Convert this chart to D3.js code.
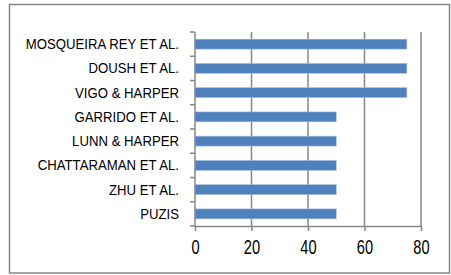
<!DOCTYPE html>
<html>
<head>
<meta charset="utf-8">
<script src="https://cdn.jsdelivr.net/npm/d3@7"></script>
<style>
  body { margin: 0; background: #fff; }
  svg { display: block; }
  text { font-family: "Liberation Sans Narrow", "Arial Narrow", "Liberation Sans", sans-serif; fill: #000; }
</style>
</head>
<body>
<script>
// studies, top to bottom
const studies = ["MOSQUEIRA REY ET AL.", "DOUSH ET AL.", "VIGO & HARPER", "GARRIDO ET AL.",
                 "LUNN & HARPER", "CHATTARAMAN ET AL.", "ZHU ET AL.", "PUZIS"];
const scores = [75, 75, 75, 50, 50, 50, 50, 50];
const xTicks = [0, 20, 40, 60, 80];

const W = 451, H = 275;
const margin = {top: 32, right: 30, bottom: 49, left: 195};
const width = 421 - margin.left,
      height = 226 - margin.top;
const grey = "#878787";

// no narrow font installed: squeeze the regular one
function narrow(sel, k) {
    sel.each(function () {
        const w = this.getComputedTextLength();
        d3.select(this)
            .attr("textLength", w * k)
            .attr("lengthAdjust", "spacingAndGlyphs");
    });
}

const svg = d3.select("body").append("svg")
    .attr("width", W)
    .attr("height", H);

// outer frame
svg.append("rect")
    .attr("x", 9.5).attr("y", 4.5)
    .attr("width", 440).attr("height", 268.5)
    .attr("fill", "none")
    .attr("stroke", grey)
    .attr("stroke-width", 1.5);

const g = svg.append("g")
    .attr("transform", "translate(" + margin.left + "," + margin.top + ")");

const x = d3.scaleLinear().domain([0, 80]).range([0, width]);
const y = d3.scaleBand().domain(studies).range([0, height])
    .paddingInner(0.59).paddingOuter(0.295);

// vertical gridlines
g.selectAll(".grid")
    .data(xTicks.slice(1))
    .enter().append("line")
    .attr("class", "grid")
    .attr("x1", d => x(d)).attr("x2", d => x(d))
    .attr("y1", 0).attr("y2", height)
    .attr("stroke", grey)
    .attr("stroke-width", 1.5);

// bars
g.selectAll(".bar")
    .data(studies)
    .enter().append("rect")
    .attr("class", "bar")
    .attr("x", x(0))
    .attr("y", d => y(d))
    .attr("width", (d, i) => x(scores[i]) - x(0))
    .attr("height", y.bandwidth())
    .attr("fill", "#4F81BD")
    .attr("stroke", "#A7C0DE")
    .attr("stroke-width", 0.6);

// y axis: labels centred on bars, ticks on band edges
const yAxis = g.append("g")
    .call(d3.axisLeft(y).tickSize(0).tickPadding(16));
yAxis.attr("font-family", null);
yAxis.select(".domain").remove();
yAxis.selectAll("text").attr("font-size", "15.5px").call(narrow, 0.85);

const edges = studies.map(d => y(d) - y.step() * y.paddingOuter()).concat([height]);
g.selectAll(".ytick")
    .data(edges)
    .enter().append("line")
    .attr("class", "ytick")
    .attr("x1", -5).attr("x2", 0)
    .attr("y1", d => d).attr("y2", d => d)
    .attr("stroke", grey)
    .attr("stroke-width", 1.5);
g.append("line")
    .attr("x1", 0).attr("x2", 0)
    .attr("y1", 0).attr("y2", height)
    .attr("stroke", grey)
    .attr("stroke-width", 1.5);

// x axis
const xAxis = g.append("g")
    .attr("transform", "translate(0," + height + ")")
    .call(d3.axisBottom(x).tickValues(xTicks).tickSize(5).tickPadding(9).tickSizeOuter(0));
xAxis.attr("font-family", null);
xAxis.select(".domain").attr("stroke", grey).attr("stroke-width", 1.5);
xAxis.selectAll(".tick line").attr("stroke", grey).attr("stroke-width", 1.5);
xAxis.selectAll("text").attr("font-size", "19.5px").call(narrow, 0.75);
</script>
</body>
</html>
